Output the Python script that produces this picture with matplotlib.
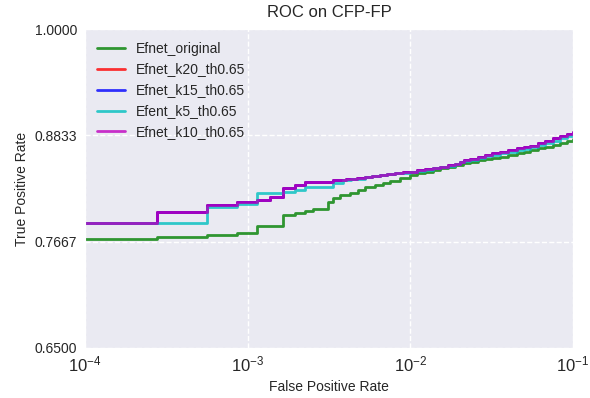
"""ROC on CFP-FP: Efnet variants, log-scale FPR."""

import matplotlib
matplotlib.use("Agg")
import matplotlib.pyplot as plt
import seaborn as sns

# ---- data ----
fpr_k10 = [1.0e-4, 2.76e-4, 5.60e-4, 8.55e-4, 1.14e-3, 1.37e-3, 1.66e-3, 1.95e-3,
           2.25e-3, 3.36e-3, 4.00e-3, 4.68e-3, 5.26e-3, 5.80e-3, 6.50e-3, 7.20e-3,
           8.04e-3, 9.00e-3, 1.0e-2, 1.10e-2, 1.23e-2, 1.38e-2, 1.52e-2, 1.70e-2,
           1.88e-2, 2.02e-2, 2.15e-2, 2.32e-2, 2.60e-2, 2.88e-2, 3.20e-2, 3.55e-2,
           4.00e-2, 4.52e-2, 5.00e-2, 5.43e-2, 6.10e-2, 6.72e-2, 7.50e-2, 8.30e-2,
           9.20e-2, 1.0e-1]
tpr_k10 = [0.7875, 0.7996, 0.8069, 0.8099, 0.8124, 0.8160, 0.8253, 0.8289,
           0.8325, 0.8343, 0.8350, 0.8360, 0.8380, 0.8390, 0.8400, 0.8410,
           0.8420, 0.8428, 0.8435, 0.8448, 0.8460, 0.8475, 0.8490, 0.8505,
           0.8520, 0.8545, 0.8560, 0.8575, 0.8590, 0.8620, 0.8635, 0.8650,
           0.8670, 0.8690, 0.8705, 0.8720, 0.8745, 0.8770, 0.8800, 0.8830,
           0.8850, 0.8870]

fpr_k20 = list(fpr_k10)
tpr_k20 = list(tpr_k10)
fpr_k15 = list(fpr_k10)
tpr_k15 = list(tpr_k10)

fpr_k5 = [1.0e-4, 5.60e-4, 8.55e-4, 1.14e-3, 1.66e-3, 1.95e-3, 2.25e-3, 3.36e-3,
          3.85e-3, 4.30e-3, 4.68e-3, 5.26e-3, 5.80e-3, 6.50e-3, 7.20e-3, 8.04e-3,
          9.00e-3, 1.0e-2, 1.10e-2, 1.23e-2, 1.38e-2, 1.52e-2, 1.70e-2, 1.88e-2,
          2.02e-2, 2.15e-2, 2.32e-2, 2.60e-2, 2.88e-2, 3.20e-2, 3.55e-2, 4.00e-2,
          4.52e-2, 5.00e-2, 5.43e-2, 6.10e-2, 6.72e-2, 7.50e-2, 8.30e-2, 9.20e-2,
          1.0e-1]
tpr_k5 = [0.7875, 0.8050, 0.8080, 0.8197, 0.8216, 0.8230, 0.8270, 0.8307,
          0.8343, 0.8350, 0.8355, 0.8375, 0.8385, 0.8395, 0.8405, 0.8415,
          0.8423, 0.8430, 0.8443, 0.8455, 0.8470, 0.8485, 0.8500, 0.8515,
          0.8535, 0.8550, 0.8565, 0.8585, 0.8605, 0.8620, 0.8635, 0.8655,
          0.8670, 0.8685, 0.8700, 0.8725, 0.8750, 0.8775, 0.8805, 0.8825,
          0.8840]

fpr_orig = [1.0e-4, 2.76e-4, 5.60e-4, 8.55e-4, 1.14e-3, 1.66e-3, 1.95e-3, 2.25e-3,
            2.52e-3, 3.13e-3, 3.36e-3, 3.69e-3, 4.25e-3, 4.76e-3, 5.26e-3, 6.06e-3,
            6.80e-3, 7.50e-3, 8.63e-3, 1.0e-2, 1.10e-2, 1.23e-2, 1.38e-2, 1.52e-2,
            1.70e-2, 1.88e-2, 2.10e-2, 2.32e-2, 2.60e-2, 2.88e-2, 3.20e-2, 3.55e-2,
            4.00e-2, 4.52e-2, 5.00e-2, 5.43e-2, 6.10e-2, 6.72e-2, 7.50e-2, 8.30e-2,
            9.20e-2, 1.0e-1]
tpr_orig = [0.7690, 0.7722, 0.7740, 0.7766, 0.7839, 0.7960, 0.7985, 0.8006,
            0.8020, 0.8106, 0.8143, 0.8179, 0.8204, 0.8234, 0.8270, 0.8290,
            0.8310, 0.8330, 0.8360, 0.8399, 0.8415, 0.8430, 0.8450, 0.8470,
            0.8490, 0.8510, 0.8528, 0.8544, 0.8557, 0.8570, 0.8585, 0.8600,
            0.8618, 0.8636, 0.8652, 0.8670, 0.8690, 0.8710, 0.8730, 0.8750,
            0.8770, 0.8790]

y_ticks = [0.65, 0.7667, 0.8833, 1.0]
x_ticks = [1e-4, 1e-3, 1e-2, 1e-1]


def main() -> None:
    sns.set_style("darkgrid", {"grid.linestyle": "--"})
    plt.rcParams["font.family"] = ["Liberation Sans", "DejaVu Sans"]

    fig = plt.figure(figsize=(5.9, 3.98), dpi=100)
    ax = fig.add_axes([0.144, 0.126, 0.827, 0.801])

    series = [
        (fpr_orig, tpr_orig, "g", "Efnet_original"),
        (fpr_k20, tpr_k20, "r", "Efnet_k20_th0.65"),
        (fpr_k15, tpr_k15, "b", "Efnet_k15_th0.65"),
        (fpr_k5, tpr_k5, "c", "Efent_k5_th0.65"),
        (fpr_k10, tpr_k10, "m", "Efnet_k10_th0.65"),
    ]
    for x, y, c, lab in series:
        ax.plot(x, y, color=c, lw=2, alpha=0.8, drawstyle="steps-post", label=lab)

    ax.set_xscale("log")
    ax.set_xlim(1e-4, 1e-1)
    ax.set_ylim(0.65, 1.0)
    ax.set_xticks(x_ticks)
    ax.minorticks_off()
    ax.set_yticks(y_ticks)
    ax.set_yticklabels([f"{v:.4f}" for v in y_ticks])
    ax.tick_params(axis="x", labelsize=12, pad=1)
    ax.tick_params(axis="y", labelsize=10, pad=2)
    ax.grid(True, color="white", linestyle="--", linewidth=1)

    ax.set_xlabel("False Positive Rate", fontsize=10)
    ax.set_ylabel("True Positive Rate", fontsize=10)
    ax.set_title("ROC on CFP-FP", fontsize=12, pad=9)
    ax.legend(loc="upper left", fontsize=10, frameon=False)

    fig.savefig("out.png", dpi=100)


if __name__ == "__main__":
    main()
